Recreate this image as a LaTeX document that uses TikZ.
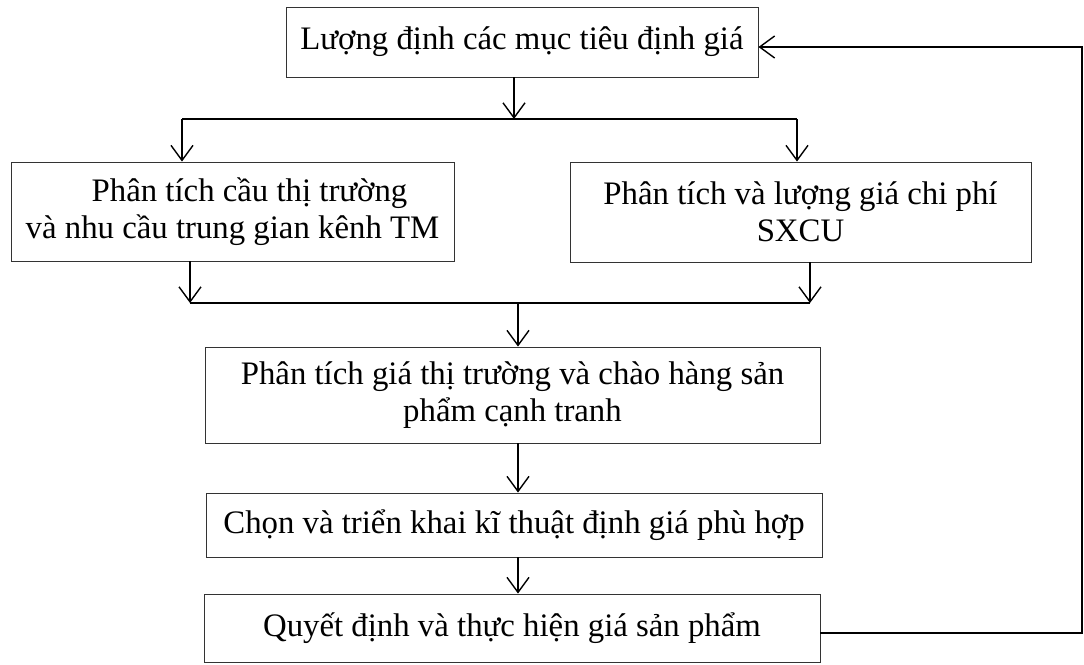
\documentclass[tikz,border=0pt]{standalone}
\usepackage{fontspec}
\setmainfont{Liberation Serif}
\usetikzlibrary{arrows.meta}
\begin{document}
\begin{tikzpicture}[x=1pt,y=-1pt,
  box/.style={draw=black!80, line width=0.9pt, inner sep=0pt, align=center,
    font=\fontsize{32.8}{37}\selectfont},
  conn/.style={line width=1.6pt, black},
  arr/.style={conn, -{Straight Barb[length=15pt,width=22pt,line width=1.4pt]}}]
\useasboundingbox (0,0) rectangle (1084,664);

% process boxes
\node[box, minimum width=472pt, minimum height=70pt] (top) at (522,42) {Lượng định các mục tiêu định giá};
\node[box, minimum width=443pt, minimum height=99pt] (lft) at (232.5,211.5) {\hspace*{34pt}Phân tích cầu thị trường\\và nhu cầu trung gian kênh TM};
\node[box, minimum width=461pt, minimum height=100pt] (rgt) at (800.5,212) {Phân tích và lượng giá chi phí\\SXCU};
\node[box, minimum width=615pt, minimum height=96pt] (mid) at (512.5,395) {Phân tích giá thị trường và chào hàng sản\\phẩm cạnh tranh};
\node[box, minimum width=616pt, minimum height=64pt] (tech) at (514,525) {Chọn và triển khai kĩ thuật định giá phù hợp};
\node[box, minimum width=616pt, minimum height=68pt] (dec) at (512,628) {Quyết định và thực hiện giá sản phẩm};

% junction points
\coordinate (s1) at (514,119);
\coordinate (sL) at (182,119);
\coordinate (sR) at (797,119);
\coordinate (m1) at (518,303);
\coordinate (mL) at (190,303);
\coordinate (mR) at (810,303);
\coordinate (fb) at (1082,633);
\coordinate (ft) at (1082,47);

% split from the objectives box
\draw[arr] (s1 |- top.south) -- (s1);
\draw[conn] (sL) -- (sR);
\draw[arr] (sL) -- (sL |- lft.north);
\draw[arr] (sR) -- (sR |- rgt.north);

% merge into the competition analysis box
\draw[arr] (mL |- lft.south) -- (mL);
\draw[arr] (mR |- rgt.south) -- (mR);
\draw[conn] (mL) -- (mR);
\draw[arr] (m1) -- (m1 |- mid.north);

% sequential steps
\draw[arr] (m1 |- mid.south) -- (m1 |- tech.north);
\draw[arr] (m1 |- tech.south) -- (m1 |- dec.north);

% feedback loop
\draw[arr] (dec.east |- fb) -- (fb) -- (ft) -- (ft -| top.east);
\end{tikzpicture}
\end{document}
